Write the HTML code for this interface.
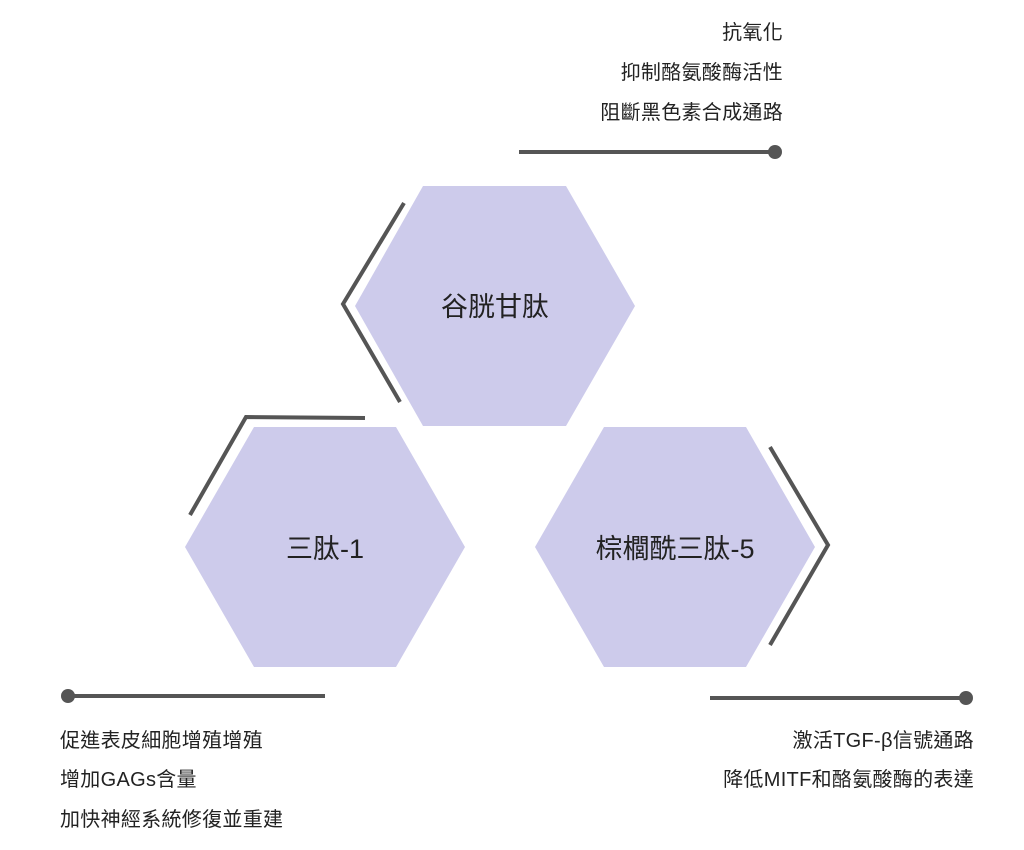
<!DOCTYPE html>
<html><head><meta charset="utf-8"><style>
html,body{margin:0;padding:0;background:#fff;}
body{width:1024px;height:850px;position:relative;overflow:hidden;font-family:"Liberation Sans","Noto Sans CJK TC",sans-serif;color:#222;}
.t{position:absolute;font-size:20px;line-height:26px;white-space:nowrap;letter-spacing:0.3px;}
.r{text-align:right;}
</style></head><body>
<svg width="1024" height="850" style="position:absolute;left:0;top:0">
<g fill="#cdcbeb">
<polygon points="423,186 566,186 635,306 566,426 423,426 355,306"/>
<polygon points="254,427 396,427 465,547 396,667 254,667 185,547"/>
<polygon points="604,427 746,427 815,547 746,667 604,667 535,547"/>
</g>
<g stroke="#555" stroke-width="4" fill="none">
<polyline points="404,203 343,304 400,402"/>
<polyline points="190,515 246,417 365,418"/>
<polyline points="770,447 828,545 770,645"/>
<line x1="519" y1="152" x2="775" y2="152"/>
<line x1="68" y1="696" x2="325" y2="696"/>
<line x1="710" y1="698" x2="966" y2="698"/>
</g>
<g fill="#555">
<circle cx="775" cy="152" r="7"/>
<circle cx="68" cy="696" r="7"/>
<circle cx="966" cy="698" r="7"/>
</g>
<g font-family="Liberation Sans, Noto Sans CJK TC, sans-serif" font-size="27" fill="#222" text-anchor="middle">
<text x="495" y="316">谷胱甘肽</text>
<text x="325" y="558">三肽-1</text>
<text x="675" y="558">棕櫚酰三肽-5</text>
</g>
</svg>
<div class="t r" style="right:241px;top:20px">抗氧化</div>
<div class="t r" style="right:241px;top:60px">抑制酪氨酸酶活性</div>
<div class="t r" style="right:241px;top:100px">阻斷黑色素合成通路</div>
<div class="t" style="left:60px;top:728px">促進表皮細胞增殖增殖</div>
<div class="t" style="left:60px;top:767px">增加GAGs含量</div>
<div class="t" style="left:60px;top:807px">加快神經系統修復並重建</div>
<div class="t r" style="right:50px;top:728px">激活TGF-β信號通路</div>
<div class="t r" style="right:50px;top:767px">降低MITF和酪氨酸酶的表達</div>
</body></html>
